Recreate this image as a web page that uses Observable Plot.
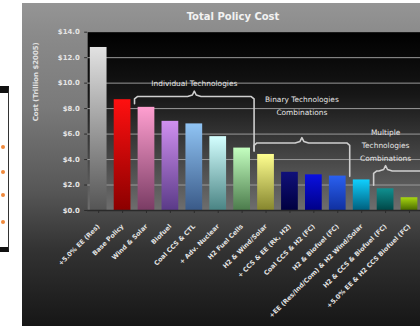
<!DOCTYPE html>
<html>
<head>
<meta charset="utf-8">
<script src="https://cdn.jsdelivr.net/npm/d3@7"></script>
<script src="https://cdn.jsdelivr.net/npm/@observablehq/plot@0.6"></script>
<style>
  body { margin: 0; background: #fff; font-family: "DejaVu Sans", sans-serif; }
  #wrap { position: relative; width: 420px; height: 326px; overflow: hidden; }
  #side { position: absolute; left: 0; top: 86px; width: 8px; height: 154px;
          background: #fff; border-top: 7px solid #111; border-bottom: 5px solid #111;
          border-right: 1px solid #333; }
  #side i { position: absolute; left: 1px; width: 4px; height: 4px; border-radius: 2px; background: #f08a3c; }
  #panel { position: absolute; left: 22px; top: 3px; width: 398px; height: 323px;
           background: linear-gradient(#959595 0%, #8a8a8a 10%, #7a7a7a 32%, #575757 58%, #333 76%, #161616 100%); }
  #title { position: absolute; left: 133px; width: 200px; top: 11px; text-align: center;
           color: #f2f2f2; font: bold 10px "DejaVu Sans", sans-serif; }
  #chart { position: absolute; left: 0; top: 0; }
</style>
</head>
<body>
<div id="wrap">
  <div id="side"><i style="top:52px"></i><i style="top:77px"></i><i style="top:100px"></i><i style="top:127px"></i></div>
  <div id="panel"></div>
  <div id="title">Total Policy Cost</div>
  <div id="chart"></div>
</div>
<script>
// Scenario names and total policy cost (trillion $)
const scenarios = [
  "+5.0% EE (Res)", "Base Policy", "Wind & Solar", "Biofuel", "Coal CCS & CTL",
  "+ Adv. Nuclear", "H2 Fuel Cells", "H2 & Wind/Solar", "+ CCS & EE (Rk, H2)",
  "Coal CCS & H2 (FC)", "H2 & Biofuel (FC)", "+EE (Res/Ind/Com) & H2 Wind/Solar",
  "H2 & CCS & Biofuel (FC)", "+5.0% EE & H2 CCS Biofuel (FC)"
];
const cost = [12.8, 8.7, 8.1, 7.0, 6.8, 5.8, 4.9, 4.4, 3.0, 2.8, 2.7, 2.4, 1.7, 1.0];
const yTicks = [0, 2, 4, 6, 8, 10, 12, 14];
const yTitle = "Cost (Trillion $2005)";

// Scenario groups bracketed above the bars (bar-index span, brace level in $)
const groupNames = ["Individual Technologies", "Binary Technologies\nCombinations", "Multiple\nTechnologies\nCombinations"];
const groupFrom = [1.5, 6.5, 11.5];
const groupTo = [6.5, 10.5, 14.5];
const groupMid = [4.0, 8.5, 12.0];
const groupLevel = [8.95, 5.3, 3.1];
const groupTextY = [10.1, 8.3, 5.2];

// Bar colour ramps (top -> bottom)
const barTop = ["#e2e2e2", "#ff1010", "#ff9fd0", "#d090f0", "#90c4f4", "#d4ffff", "#c4ffc0", "#ffff90",
                "#10107a", "#0a10e0", "#2a60f0", "#10d0ff", "#109090", "#a8d810"];
const barBottom = ["#555555", "#8c0000", "#7a3c64", "#5a3a88", "#3a5a88", "#4a8484", "#4c7c4c", "#86862e",
                   "#000040", "#000088", "#1030a0", "#00607e", "#004848", "#4a6a00"];

const data = cost.map((v, i) => ({i, name: scenarios[i], v}));

// Brace outline for each group
const braces = [];
groupNames.forEach((g, k) => {
  const x0 = groupFrom[k], x1 = groupTo[k], L = groupLevel[k], m = groupMid[k];
  const drop = (x) => (cost[Math.ceil(x)] ?? L - 1.2) + 0.28;
  [[x0, drop(x0)], [x0, L - 0.18], [x0 + 0.12, L],
   [m - 0.28, L], [m - 0.08, L + 0.12], [m, L + 0.42], [m + 0.08, L + 0.12], [m + 0.28, L],
   [x1 - 0.12, L], [x1, L - 0.18], [x1, drop(x1)]]
    .forEach(([x, y]) => braces.push({g: k, x, y}));
});
const groupText = groupNames.map((t, k) => ({t, x: groupMid[k], y: groupTextY[k]}));

const defs = () => {
  const d = d3.create("svg:defs");
  const bg = d.append("linearGradient").attr("id", "plotBg").attr("x1", 0).attr("x2", 0).attr("y1", 0).attr("y2", 1);
  bg.append("stop").attr("offset", "0%").attr("stop-color", "#000");
  bg.append("stop").attr("offset", "35%").attr("stop-color", "#161616");
  bg.append("stop").attr("offset", "100%").attr("stop-color", "#6e6e6e");
  barTop.forEach((c, i) => {
    const g = d.append("linearGradient").attr("id", `bar${i}`).attr("x1", 0).attr("x2", 0).attr("y1", 0).attr("y2", 1);
    g.append("stop").attr("offset", "0%").attr("stop-color", c);
    g.append("stop").attr("offset", "100%").attr("stop-color", barBottom[i]);
  });
  return d.node();
};

const font = "DejaVu Sans, sans-serif";
const chart = Plot.plot({
  width: 424,
  height: 326,
  marginLeft: 88,
  marginRight: 0,
  marginTop: 32,
  marginBottom: 114,
  style: {background: "transparent", fontFamily: font, overflow: "visible"},
  x: {domain: [-0.46, 13.46], axis: null},
  y: {domain: [0, 14], axis: null},
  color: {type: "identity"},
  marks: [
    defs,
    Plot.frame({fill: "url(#plotBg)", stroke: null}),
    Plot.gridY(yTicks.filter(t => t > 0 && t < 14), {stroke: "#9c9c9c", strokeOpacity: 1, strokeWidth: 1}),
    Plot.rectY(data, {x1: d => d.i - 0.35, x2: d => d.i + 0.35, y1: 0, y2: "v", fill: d => `url(#bar${d.i})`}),
    Plot.ruleY([0], {stroke: "#2a2a2a", strokeWidth: 1.5}),
    Plot.line(braces, {x: "x", y: "y", z: "g", stroke: "#cfcfcf", strokeWidth: 1.6, strokeLinejoin: "round", strokeLinecap: "round"}),
    Plot.text(groupText, {x: "x", y: "y", text: "t", fill: "#e6e6e6", fontSize: 7.5, lineHeight: 1.75, lineAnchor: "middle", fontFamily: font}),
    Plot.axisY({ticks: yTicks, tickFormat: d => "$" + d.toFixed(1), tickSize: 3, tickPadding: 5, stroke: "#2a2a2a",
                fill: "#e4e4e4", fontSize: 7, fontWeight: "bold", label: null}),
    Plot.text([yTitle], {frameAnchor: "left", dx: -52, rotate: -90, fill: "#e0e0e0", fontSize: 7, fontWeight: "bold", fontFamily: font}),
    Plot.axisX({ticks: d3.range(cost.length), tickFormat: i => scenarios[i], tickRotate: -45, tickSize: 3, tickPadding: 12,
                stroke: "#2a2a2a", fill: "#e4e4e4", fontSize: 6.5, fontWeight: "bold", label: null})
  ]
});
document.getElementById("chart").append(chart);
</script>
</body>
</html>
